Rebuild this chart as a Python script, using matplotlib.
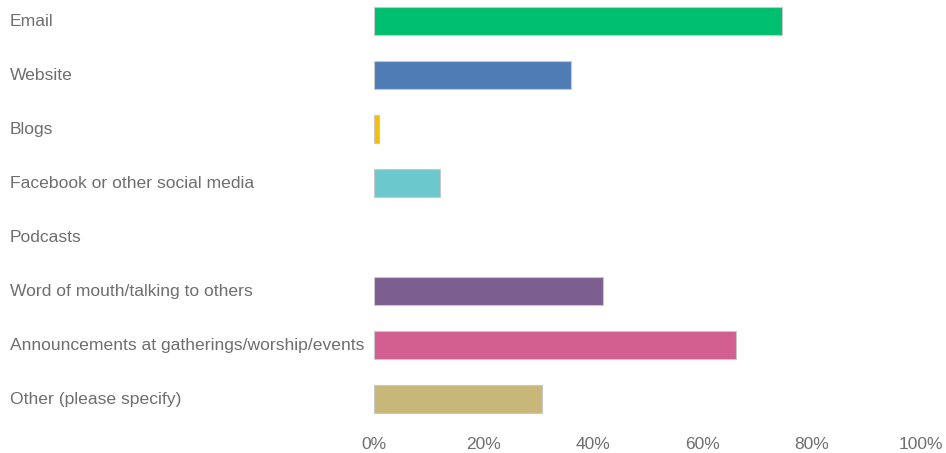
import matplotlib
matplotlib.use("Agg")
import matplotlib.pyplot as plt
from matplotlib.transforms import blended_transform_factory

categories = [
    "Email",
    "Website",
    "Blogs",
    "Facebook or other social media",
    "Podcasts",
    "Word of mouth/talking to others",
    "Announcements at gatherings/worship/events",
    "Other (please specify)",
]
values = [74.5, 36.0, 1.0, 12.1, 0.0, 41.9, 66.2, 30.8]
colors = ["#00BF6F", "#507CB6", "#F9BE00", "#6BC8CD", "#FFFFFF", "#7D5E90", "#D25F90", "#C7B879"]
xticks = [0, 20, 40, 60, 80, 100]
xtick_labels = ["0%", "20%", "40%", "60%", "80%", "100%"]

plt.rcParams["font.family"] = ["Liberation Sans", "DejaVu Sans"]

W, H = 946, 453
fig = plt.figure(figsize=(W / 100, H / 100), dpi=100)
ax = fig.add_axes([374 / W, 27 / H, (921 - 374) / W, (453 - 27) / H])

ypos = list(range(len(categories)))
for y, v, c in zip(ypos, values, colors):
    if v > 0:
        ax.barh(y, v, height=0.51, color=c, edgecolor="#C8C8C8", linewidth=0.8)

ax.set_xlim(0, 100)
ax.set_ylim(7.5, -0.39)
for s in ax.spines.values():
    s.set_visible(False)
ax.set_yticks([])
ax.set_xticks(xticks)
ax.set_xticklabels(xtick_labels, color="#6E6E6E", fontsize=12.5)
ax.tick_params(axis="x", length=0, pad=8)

tr = blended_transform_factory(fig.transFigure, ax.transData)
for y, name in zip(ypos, categories):
    fig.text(10 / W, y, name, transform=tr, ha="left", va="center",
             color="#6E6E6E", fontsize=12.6)

fig.savefig("out.png", dpi=100)
